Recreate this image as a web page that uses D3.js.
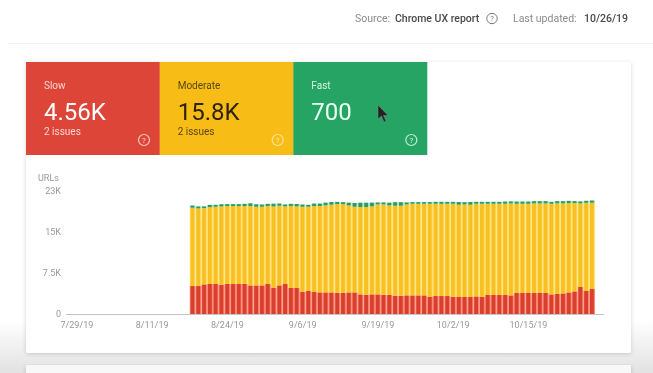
<!DOCTYPE html>
<html><head><meta charset="utf-8">
<script src="https://cdn.jsdelivr.net/npm/d3@7/dist/d3.min.js"></script>
<style>
html,body{margin:0;padding:0;background:#fff;overflow:hidden}
svg{display:block;font-family:Roboto,sans-serif}
</style></head><body><div id="c"></div>
<script>
const dates = ["8/18","8/19","8/20","8/21","8/22","8/23","8/24","8/25","8/26","8/27","8/28","8/29","8/30","8/31","9/1","9/2","9/3","9/4","9/5","9/6","9/7","9/8","9/9","9/10","9/11","9/12","9/13","9/14","9/15","9/16","9/17","9/18","9/19","9/20","9/21","9/22","9/23","9/24","9/25","9/26","9/27","9/28","9/29","9/30","10/1","10/2","10/3","10/4","10/5","10/6","10/7","10/8","10/9","10/10","10/11","10/12","10/13","10/14","10/15","10/16","10/17","10/18","10/19","10/20","10/21","10/22","10/23","10/24","10/25","10/26"];
const slow = [5.23,5.23,5.55,5.61,5.61,5.5,5.61,5.61,5.61,5.61,5.36,5.36,5.36,5.61,4.86,5.36,5.61,4.86,4.86,4.11,4.3,4.11,4.05,4.05,4.05,3.99,3.93,4.05,4.05,3.68,3.61,3.68,3.68,3.61,3.55,3.43,3.43,3.49,3.49,3.49,3.49,3.18,3.36,3.36,3.36,3.24,3.18,3.18,3.18,3.3,3.24,3.55,3.55,3.55,3.55,3.49,3.93,3.93,3.93,3.93,3.93,3.93,3.68,3.74,3.86,4.05,4.24,5.05,4.3,4.67];
const moderate = [14.65,14.52,14.26,14.39,14.45,14.62,14.58,14.58,14.58,14.58,14.83,14.7,14.7,14.58,15.26,14.89,14.51,15.33,15.26,15.95,15.76,16.08,16.14,16.26,16.39,16.57,16.63,16.26,16.01,16.32,16.39,16.44,16.82,16.89,16.76,16.82,16.82,17.01,17.13,17.13,17.13,17.44,17.26,17.26,17.26,17.38,17.26,17.32,17.26,17.32,17.38,17.07,17.07,17.07,17.07,17.2,16.69,16.69,16.69,16.76,16.76,16.76,16.94,16.95,16.83,16.7,16.51,15.64,16.51,16.14];
const fast = [0.4,0.35,0.3,0.4,0.35,0.4,0.35,0.35,0.35,0.4,0.5,0.45,0.4,0.4,0.5,0.4,0.35,0.4,0.45,0.4,0.35,0.45,0.45,0.5,0.5,0.4,0.35,0.5,0.7,0.8,0.8,0.7,0.35,0.35,0.5,0.65,0.65,0.35,0.3,0.3,0.3,0.3,0.35,0.35,0.35,0.35,0.5,0.4,0.5,0.35,0.35,0.35,0.35,0.35,0.4,0.35,0.4,0.4,0.4,0.4,0.4,0.4,0.35,0.4,0.4,0.4,0.35,0.35,0.35,0.4];
const xTickLabels = ["7/29/19","8/11/19","8/24/19","9/6/19","9/19/19","10/2/19","10/15/19"];
const xTickDates = ["7/29","8/11","8/24","9/6","9/19","10/2","10/15"];
const yTickValues = [0,7.667,15.333,23];
const yTickLabels = ["0","7.5K","15K","23K"];
const leadDates = ["7/29","7/30","7/31","8/1","8/2","8/3","8/4","8/5","8/6","8/7","8/8","8/9","8/10","8/11","8/12","8/13","8/14","8/15","8/16","8/17"];
const seriesNames = ["slow","moderate","fast"];
const tiles = [
 {label:"Slow",value:"4.56K",sub:"2 issues",fill:"#dd4539",fg:"#fff",sfg:"#fbd5d0"},
 {label:"Moderate",value:"15.8K",sub:"2 issues",fill:"#f7bc17",fg:"#2e2408",sfg:"#5a4610"},
 {label:"Fast",value:"700",sub:"",fill:"#28a464",fg:"#e8fff2",sfg:"#d5f5e2"}
];

const W=653,H=373;
const svg=d3.select("#c").append("svg").attr("width",W).attr("height",H);
const defs=svg.append("defs");
const g=defs.append("linearGradient").attr("id","fade").attr("x1",0).attr("x2",0).attr("y1",0).attr("y2",1);
g.append("stop").attr("offset","0").attr("stop-color","#fff");
g.append("stop").attr("offset","1").attr("stop-color","#e2e2e2");
const sh=defs.append("filter").attr("id","sh").attr("x","-5%").attr("y","-5%").attr("width","110%").attr("height","110%");
sh.append("feDropShadow").attr("dx",0).attr("dy",1).attr("stdDeviation",2).attr("flood-color","#000").attr("flood-opacity",0.16);
const soft=defs.append("filter").attr("id","soft").attr("x","-2%").attr("y","-2%").attr("width","104%").attr("height","104%");
soft.append("feGaussianBlur").attr("stdDeviation",0.6);

svg.append("rect").attr("width",W).attr("height",H).attr("fill","#fff");
svg.append("rect").attr("y",320).attr("width",W).attr("height",53).attr("fill","url(#fade)");
svg.append("line").attr("x1",8).attr("x2",W).attr("y1",43.5).attr("y2",43.5).attr("stroke","#f3f3f3");

// header
const head=svg.append("g").attr("font-size",10.5).attr("filter","url(#soft)");
head.append("text").attr("x",355).attr("y",22).attr("fill","#8a8a8a").text("Source:");
head.append("text").attr("x",395).attr("y",22).attr("fill","#4a4a4a").attr("font-weight",500).text("Chrome UX report");
head.append("circle").attr("cx",492).attr("cy",18.5).attr("r",5.2).attr("fill","none").attr("stroke","#777");
head.append("text").attr("x",492).attr("y",21).attr("text-anchor","middle").attr("font-size",7.5).attr("fill","#777").text("?");
head.append("text").attr("x",513).attr("y",22).attr("fill","#8a8a8a").text("Last updated:");
head.append("text").attr("x",584).attr("y",22).attr("fill","#4a4a4a").attr("font-weight",500).text("10/26/19");

// cards
svg.append("rect").attr("x",26).attr("y",62).attr("width",605).attr("height",291).attr("fill","#fff").attr("rx",2).attr("filter","url(#sh)");
svg.append("rect").attr("x",26).attr("y",365).attr("width",605).attr("height",20).attr("fill","#f8f8f8").attr("filter","url(#sh)");

// tiles
const tileX=d3.scaleBand().domain(tiles.map(d=>d.label)).range([26,427]);
const tg=svg.append("g").attr("filter","url(#soft)").selectAll("g").data(tiles).join("g").attr("transform",d=>`translate(${tileX(d.label)},62)`);
tg.append("rect").attr("width",tileX.bandwidth()+.3).attr("height",93).attr("fill",d=>d.fill);
tg.append("text").attr("x",18).attr("y",27).attr("font-size",10).attr("fill",d=>d.sfg).text(d=>d.label);
tg.append("text").attr("x",18).attr("y",58).attr("font-size",24).attr("fill",d=>d.fg).text(d=>d.value);
tg.append("text").attr("x",18).attr("y",73).attr("font-size",10).attr("fill",d=>d.sfg).text(d=>d.sub);
tg.append("circle").attr("cx",118).attr("cy",78).attr("r",5.5).attr("fill","none").attr("stroke",(d,i)=>i===1?"#fde9a8":d.sfg).attr("stroke-width",1.2).attr("opacity",.9);
tg.append("text").attr("x",118).attr("y",81).attr("text-anchor","middle").attr("font-size",8).attr("fill",(d,i)=>i===1?"#fde9a8":d.sfg).text("?");

// cursor
svg.append("path").attr("d","M378 105 L378 119 L381.5 116 L384 122 L386 121 L383.5 115.5 L388 115.5 Z").attr("fill","#222").attr("stroke","#888").attr("stroke-width",.5).attr("filter","url(#soft)");

// chart
const x=d3.scaleBand().domain(leadDates.concat(dates)).range([74,595]).padding(0);
const y=d3.scaleLinear().domain([0,23]).range([314,191]);
const rows=dates.map((d,i)=>({date:d,slow:slow[i],moderate:moderate[i],fast:fast[i]}));
const stacked=d3.stack().keys(seriesNames)(rows);
const colour=d3.scaleOrdinal().domain(seriesNames).range(["#d8402f","#f8c024","#2f9a60"]);
const gapColour=d3.scaleOrdinal().domain(seriesNames).range(["#ff8272","#ffdf70","#a8e6c4"]);
const plot=svg.append("g").attr("filter","url(#soft)");

plot.append("line").attr("x1",66).attr("x2",604).attr("y1",314.5).attr("y2",314.5).attr("stroke","#c4c4c4").attr("stroke-width",1);

const layers=plot.selectAll("g.l").data(stacked).join("g").attr("class","l");
layers.selectAll("rect.b").data(d=>d.map(v=>({v,key:d.key}))).join("rect").attr("class","b")
 .attr("x",d=>x(d.v.data.date)).attr("width",x.bandwidth())
 .attr("y",d=>y(d.v[1])).attr("height",d=>y(d.v[0])-y(d.v[1])).attr("fill",d=>gapColour(d.key));
layers.selectAll("rect.f").data(d=>d.map(v=>({v,key:d.key}))).join("rect").attr("class","f")
 .attr("x",d=>x(d.v.data.date)+.8).attr("width",x.bandwidth()-2)
 .attr("y",d=>y(d.v[1])).attr("height",d=>y(d.v[0])-y(d.v[1])).attr("fill",d=>colour(d.key));

const axisX=d3.axisBottom(x).tickValues(xTickDates).tickFormat((d,i)=>xTickLabels[i]).tickSize(0).tickPadding(0);
const ax=plot.append("g").attr("transform","translate(0,322)").call(axisX);
ax.select(".domain").remove();
ax.selectAll("text").attr("font-size",9).attr("font-family","Roboto,sans-serif").attr("fill","#999").attr("dy","0.71em");

const axisY=d3.axisLeft(y).tickValues(yTickValues).tickFormat((d,i)=>yTickLabels[i]).tickSize(0).tickPadding(0);
const ay=plot.append("g").attr("transform","translate(61,0)").call(axisY);
ay.select(".domain").remove();
ay.selectAll("text").attr("font-size",9).attr("font-family","Roboto,sans-serif").attr("fill","#999");
plot.append("text").attr("x",38).attr("y",181).attr("font-size",9).attr("fill","#999").text("URLs");
</script></body></html>
